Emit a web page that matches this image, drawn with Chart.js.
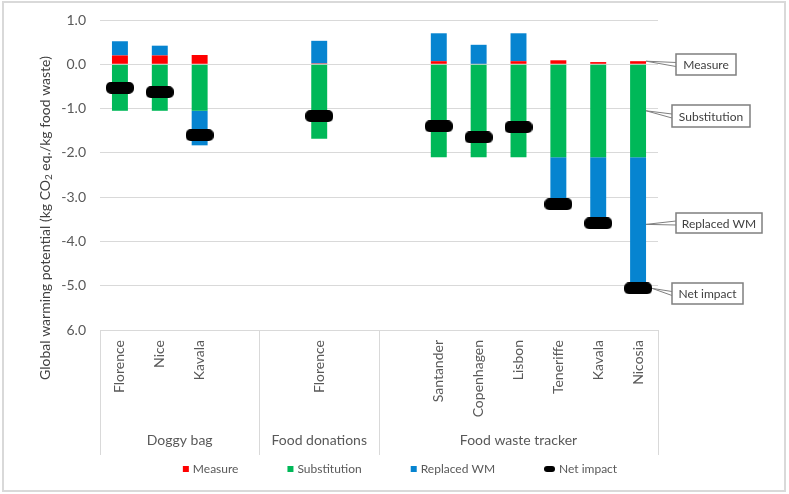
<!DOCTYPE html>
<html><head><meta charset="utf-8">
<script src="https://cdn.jsdelivr.net/npm/chart.js@4/dist/chart.umd.min.js"></script>
<style>html,body{margin:0;padding:0;background:#fff}#wrap{width:789px;height:494px;position:relative}</style>
</head><body><div id="wrap"><canvas id="c" width="789" height="494"></canvas></div>
<script>
const categories = ['Florence','Nice','Kavala','','','Florence','','','Santander','Copenhagen','Lisbon','Teneriffe','Kavala','Nicosia'];
const groupNames = ['Doggy bag','Food donations','Food waste tracker'];
const groupStarts = [0,4,7];
const groupEnds = [3,6,13];
const measure = [0.2,0.2,0.21,null,null,0.02,null,null,0.07,0.01,0.07,0.09,0.05,0.07];
const substitution = [-1.05,-1.05,-1.05,null,null,-1.68,null,null,-2.1,-2.1,-2.1,-2.1,-2.1,-2.1];
const replacedWM = [0.32,0.22,-0.78,null,null,0.51,null,null,0.63,0.43,0.63,-1.15,-1.54,-3.03];
const netImpact = [-0.53,-0.63,-1.6,null,null,-1.17,null,null,-1.4,-1.65,-1.42,-3.16,-3.59,-5.06];
const yTickLabels = ['1.0','0.0','-1.0','-2.0','-3.0','-4.0','-5.0','6.0'];
const seriesNames = ['Measure','Substitution','Replaced WM','Net impact'];
const seriesColors = ['#FF0000','#00B858','#0684D0','#000000'];

const FONT = 'Lato, "Liberation Sans", sans-serif';

function pill(w,h,r){
  const c=document.createElement('canvas');c.width=w;c.height=h;
  const x=c.getContext('2d');x.fillStyle='#000';x.beginPath();
  x.moveTo(r,0);x.lineTo(w-r,0);x.arcTo(w,0,w,r,r);x.lineTo(w,h-r);x.arcTo(w,h,w-r,h,r);
  x.lineTo(r,h);x.arcTo(0,h,0,h-r,r);x.lineTo(0,r);x.arcTo(0,0,r,0,r);x.closePath();x.fill();
  return c;
}
const netMarker = pill(28,12,5);

const decor = {
  id:'decor',
  beforeDraw(chart){
    const ctx=chart.ctx;ctx.save();
    ctx.fillStyle='#fff';ctx.fillRect(0,0,chart.width,chart.height);
    ctx.strokeStyle='#d9d9d9';ctx.lineWidth=2;ctx.strokeRect(3,2,782,489);
    ctx.restore();
  },
  afterDraw(chart){
    const ctx=chart.ctx, ca=chart.chartArea, xs=chart.scales.x, ys=chart.scales.y;
    ctx.save();
    // y axis title
    ctx.translate(45,218);ctx.rotate(-Math.PI/2);
    ctx.fillStyle='#404040';ctx.textBaseline='middle';
    const p1='Global warming potential (kg CO', p2='2', p3=' eq./kg food waste)';
    ctx.font='14px '+FONT;const w1=ctx.measureText(p1).width, w3=ctx.measureText(p3).width;
    ctx.font='10px '+FONT;const w2=ctx.measureText(p2).width;
    let x0=-(w1+w2+w3)/2;
    ctx.font='14px '+FONT;ctx.textAlign='left';ctx.fillText(p1,x0,0);
    ctx.font='10px '+FONT;ctx.fillText(p2,x0+w1,4);
    ctx.font='14px '+FONT;ctx.fillText(p3,x0+w1+w2,0);
    ctx.restore();
    // group dividers and labels
    ctx.save();
    const step=xs.getPixelForValue(1)-xs.getPixelForValue(0);
    const bnd=i=>xs.getPixelForValue(i)-step/2;
    ctx.strokeStyle='#d9d9d9';ctx.lineWidth=1;
    const xsLines=new Set();
    groupStarts.forEach((s,i)=>{xsLines.add(Math.round(bnd(s)));xsLines.add(Math.round(bnd(groupEnds[i]+1)));});
    xsLines.forEach(x=>{ctx.beginPath();ctx.moveTo(x+0.5,ca.bottom);ctx.lineTo(x+0.5,ca.bottom+125);ctx.stroke();});
    ctx.fillStyle='#595959';ctx.font='14px '+FONT;ctx.textAlign='center';ctx.textBaseline='middle';
    groupNames.forEach((g,i)=>{const cx=(bnd(groupStarts[i])+bnd(groupEnds[i]+1))/2;ctx.fillText(g,cx,ca.bottom+110);});
    ctx.restore();
    // callouts (anchored at last category)
    ctx.save();
    const k=categories.length-1;
    const bx=xs.getPixelForValue(k)+8;
    const anchors=[
      {x:bx,y:ys.getPixelForValue(measure[k]),box:[676,54,60,21]},
      {x:bx,y:ys.getPixelForValue(substitution[k]/2),box:[672,105,78,22]},
      {x:bx,y:ys.getPixelForValue(substitution[k]+replacedWM[k]/2),box:[676,213,86,20]},
      {x:bx+6,y:ys.getPixelForValue(netImpact[k]),box:[672,283,71,21]}
    ];
    anchors.forEach((a,i)=>{
      const [l,t,w,h]=a.box;const cy=t+h/2;
      ctx.strokeStyle='#7f7f7f';ctx.lineWidth=1;
      ctx.beginPath();ctx.moveTo(a.x,a.y);ctx.lineTo(l,cy-2);ctx.moveTo(a.x,a.y);ctx.lineTo(l,cy+2);ctx.stroke();
      ctx.fillStyle='#fff';ctx.fillRect(l,t,w,h);
      ctx.lineWidth=1.5;ctx.strokeRect(l,t,w,h);
      ctx.fillStyle='#404040';ctx.font='12px '+FONT;ctx.textAlign='center';ctx.textBaseline='middle';
      ctx.fillText(seriesNames[i],l+w/2,cy+1);
    });
    ctx.restore();
    // legend
    ctx.save();
    ctx.font='12px '+FONT;ctx.textBaseline='middle';ctx.textAlign='left';
    const gap=49, ly=469;
    const widths=seriesNames.map((n,i)=>(i===3?11:6)+4+ctx.measureText(n).width);
    const total=widths.reduce((a,b)=>a+b,0)+gap*3;
    let lx=400-total/2;
    seriesNames.forEach((n,i)=>{
      if(i===3){ctx.drawImage(pill(11,6,3),lx,ly-3);}
      else{ctx.fillStyle=seriesColors[i];ctx.fillRect(lx,ly-3,6,6);}
      const bw=i===3?11:6;
      ctx.fillStyle='#595959';ctx.fillText(n,lx+bw+4,ly);
      lx+=widths[i]+gap;
    });
    ctx.restore();
  }
};

new Chart(document.getElementById('c'),{
  type:'bar',
  data:{labels:categories,datasets:[
    {type:'line',label:seriesNames[3],data:netImpact,stack:'net',order:0,showLine:false,pointStyle:netMarker,pointRadius:6,borderColor:'#000',backgroundColor:'#000'},
    {label:seriesNames[0],data:measure,backgroundColor:seriesColors[0],stack:'s',order:1},
    {label:seriesNames[1],data:substitution,backgroundColor:seriesColors[1],stack:'s',order:1},
    {label:seriesNames[2],data:replacedWM,backgroundColor:seriesColors[2],stack:'s',order:1}
  ]},
  options:{
    responsive:false,animation:false,
    categoryPercentage:1,barPercentage:0.4,
    layout:{padding:{top:20,right:131,bottom:39,left:0}},
    plugins:{legend:{display:false},tooltip:{enabled:false}},
    scales:{
      x:{stacked:true,grid:{display:false},border:{display:false},
        ticks:{autoSkip:false,minRotation:90,maxRotation:90,padding:2,color:'#595959',font:{family:FONT,size:14}},
        afterFit(s){s.height=125;s.paddingTop=0;s.paddingBottom=0;}},
      y:{stacked:true,min:-6,max:1,
        ticks:{stepSize:1,padding:14,color:'#595959',font:{family:FONT,size:14},callback:v=>yTickLabels[Math.round(1-v)]},
        grid:{color:'#d9d9d9',lineWidth:1,drawTicks:false},border:{display:false},
        afterFit(s){s.width=100;s.paddingTop=0;s.paddingBottom=0;}}
    }
  },
  plugins:[decor]
});
</script></body></html>
